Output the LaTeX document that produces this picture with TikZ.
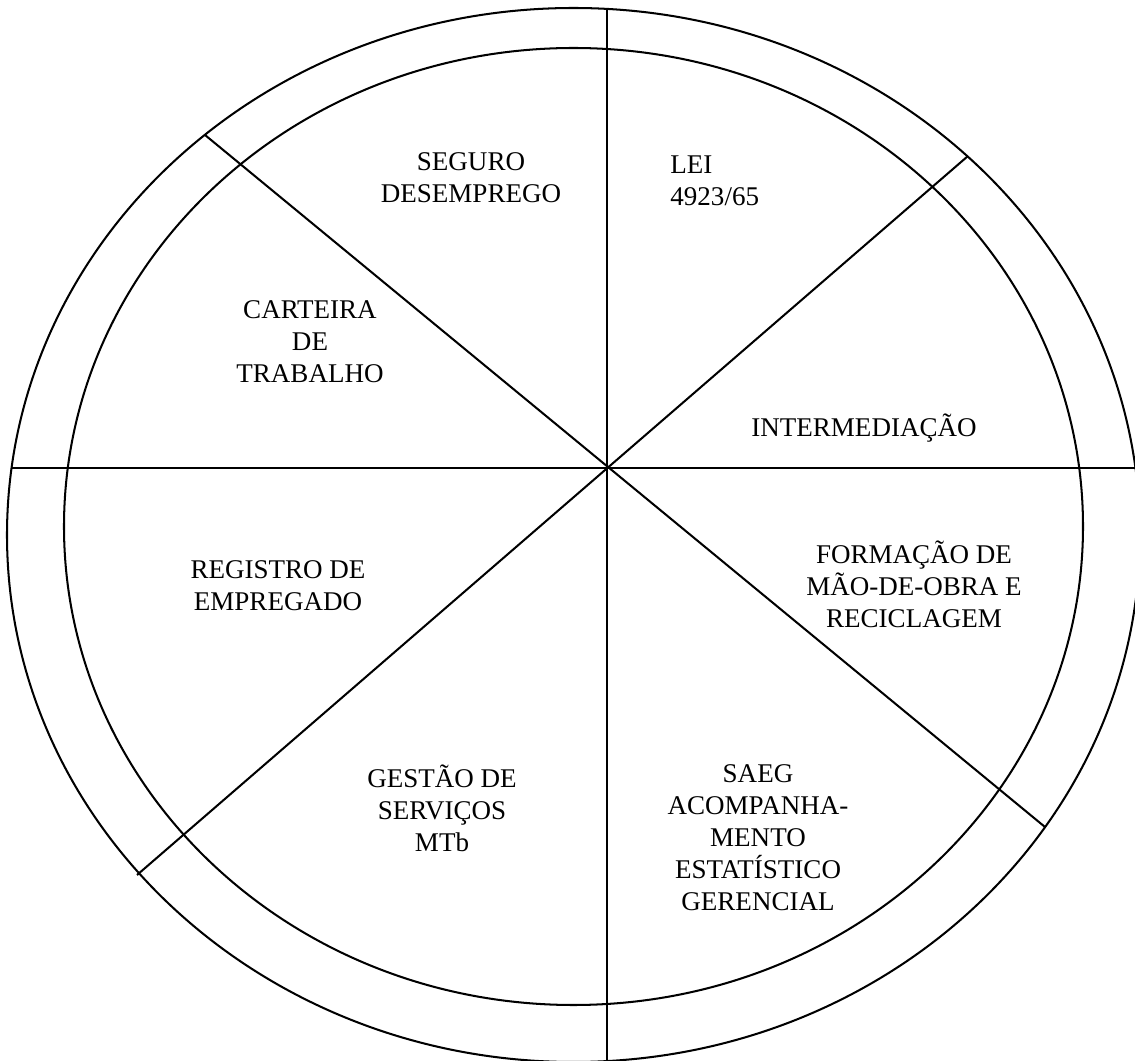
\documentclass[tikz,border=0pt]{standalone}
\usepackage{fontspec}
\setmainfont{Liberation Serif}

\begin{document}
\begin{tikzpicture}[x=0.444pt,y=-0.444pt,
    ring/.style={line width=0.9pt},
    spoke/.style={line width=0.9pt},
    txt/.style={align=center,inner sep=0pt,font=\fontsize{12pt}{14.2pt}\selectfont}]
    \useasboundingbox (0,0) rectangle (1135,1061);
    \clip (0,0) rectangle (1135,1061);

    % the two rings
    \draw[ring] (573.5,535) ellipse [x radius=566.5, y radius=527];
    \draw[ring] (573.5,526.5) ellipse [x radius=509.5, y radius=478.5];

    % spoke ends on the outer ring
    \coordinate (c) at (607,468);
    \coordinate (top) at (607,9);
    \coordinate (bot) at (607,1062);
    \coordinate (lft) at (12,468);
    \coordinate (rgt) at (1136,468);
    \coordinate (ul) at (205,135);
    \coordinate (lr) at (1045,827);
    \coordinate (ur) at (968,156);
    \coordinate (ll) at (137,875);

    \draw[spoke] (top) -- (bot);
    \draw[spoke] (lft) -- (rgt);
    \draw[spoke] (ul) -- (lr);
    \draw[spoke] (ur) -- (ll);

    % sector texts
    \node[txt] (seguro) at (471,178) {SEGURO\\DESEMPREGO};
    \node[txt,align=left,anchor=west] (lei) at (670,181) {LEI\\4923/65};
    \node[txt] (inter) at (864,428) {INTERMEDIAÇÃO};
    \node[txt] (formacao) at (914,584) {FORMAÇÃO DE\\MÃO-DE-OBRA E\\RECICLAGEM};
    \node[txt] (saeg) at (758,838) {SAEG\\ACOMPANHA-\\MENTO\\ESTATÍSTICO\\GERENCIAL};
    \node[txt] (gestao) at (442,808) {GESTÃO DE\\SERVIÇOS\\MTb};
    \node[txt] (registro) at (278,586) {REGISTRO DE\\EMPREGADO};
    \node[txt] (carteira) at (310,342) {CARTEIRA\\DE\\TRABALHO};
\end{tikzpicture}
\end{document}
